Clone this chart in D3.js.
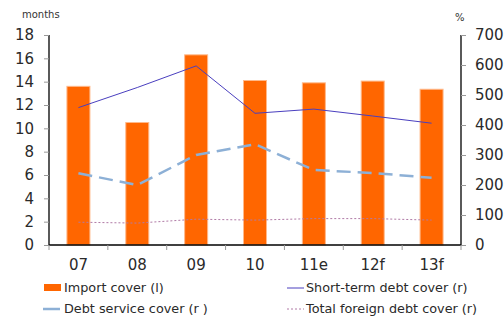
<!DOCTYPE html>
<html>
<head>
<meta charset="utf-8">
<script src="https://cdn.jsdelivr.net/npm/d3@7"></script>
<style>
  body { margin: 0; background: #fff; }
  svg { font-family: "DejaVu Sans", Verdana, sans-serif; }
</style>
</head>
<body>
<svg width="504" height="320"></svg>
<script>
var years = ['07', '08', '09', '10', '11e', '12f', '13f'];
var importCover = [13.6, 10.5, 16.3, 14.1, 13.9, 14.05, 13.35];
var shortTerm = [458, 525, 597, 439, 453, 430, 406];
var debtService = [239, 200, 300, 336, 250, 240, 224];
var totalForeign = [76, 73, 86, 83, 88, 88, 83];
var leftTicks = [0, 2, 4, 6, 8, 10, 12, 14, 16, 18];
var rightTicks = [0, 100, 200, 300, 400, 500, 600, 700];

var svg = d3.select('svg');
var plotLeft = 49, plotRight = 461, plotTop = 35, plotBottom = 245;

var x = d3.scaleBand().domain(years).range([plotLeft, plotRight]);
var yL = d3.scaleLinear().domain([0, 18]).range([plotBottom, plotTop]);
var yR = d3.scaleLinear().domain([0, 700]).range([plotBottom, plotTop]);

// bars
svg.append('g').selectAll('rect')
    .data(importCover)
    .enter().append('rect')
      .attr('x', (d, i) => x(years[i]) + x.bandwidth() / 2 - 11.5)
      .attr('width', 23)
      .attr('y', d => yL(d))
      .attr('height', d => plotBottom - yL(d))
      .attr('fill', '#ff6600')
      .attr('stroke', '#ffb98a')
      .attr('stroke-width', 1);

var line = d3.line()
    .x((d, i) => x(years[i]) + x.bandwidth() / 2)
    .y(d => yR(d));

svg.append('path')
    .datum(debtService)
    .attr('d', line)
    .attr('fill', 'none')
    .attr('stroke', '#8db0d6')
    .attr('stroke-width', 2.5)
    .attr('stroke-dasharray', '14,7');

svg.append('path')
    .datum(totalForeign)
    .attr('d', line)
    .attr('fill', 'none')
    .attr('stroke', '#b07aa6')
    .attr('stroke-width', 1)
    .attr('stroke-dasharray', '2,2');

svg.append('path')
    .datum(shortTerm)
    .attr('d', line)
    .attr('fill', 'none')
    .attr('stroke', '#4a3fbf')
    .attr('stroke-width', 1);

// axes
var gl = svg.append('g')
    .attr('transform', 'translate(' + plotLeft + ',0)')
    .call(d3.axisLeft(yL).tickValues(leftTicks).tickSize(5).tickPadding(10));

var gr = svg.append('g')
    .attr('transform', 'translate(' + plotRight + ',0)')
    .call(d3.axisRight(yR).tickValues(rightTicks).tickSize(5).tickPadding(9));

var gx = svg.append('g')
    .attr('transform', 'translate(0,' + plotBottom + ')')
    .call(d3.axisBottom(x).tickSize(0).tickPadding(14));

// x boundary ticks
svg.append('g').selectAll('line')
    .data(d3.range(years.length + 1))
    .enter().append('line')
      .attr('x1', i => plotLeft + i * x.step())
      .attr('x2', i => plotLeft + i * x.step())
      .attr('y1', plotBottom)
      .attr('y2', plotBottom + 5)
      .attr('stroke', '#999');

[gl, gr, gx].forEach(function(g) {
  g.selectAll('text').attr('font-size', 15).attr('fill', '#2a2a2a')
      .attr('font-family', '"DejaVu Sans", Verdana, sans-serif');
  g.select('.domain').attr('stroke', '#000').attr('stroke-width', 1.3);
  g.selectAll('.tick line').attr('stroke', '#999');
});
gl.select('.domain').attr('d', 'M0,' + plotTop + 'V' + plotBottom);
gr.select('.domain').attr('d', 'M0,' + plotTop + 'V' + plotBottom);
gx.select('.domain').attr('d', 'M' + plotLeft + ',0H' + plotRight);

svg.append('text').text('months')
    .attr('x', 22).attr('y', 18)
    .attr('font-size', 10).attr('fill', '#333');
svg.append('text').text('%')
    .attr('x', 455).attr('y', 21)
    .attr('font-size', 10).attr('fill', '#333');

// legend
var legend = svg.append('g').attr('font-size', 12.8).attr('fill', '#2a2a2a');
legend.append('rect').attr('x', 44).attr('y', 284).attr('width', 17).attr('height', 7).attr('fill', '#ff6600');
legend.append('text').text('Import cover (l)').attr('x', 64).attr('y', 292);
legend.append('line').attr('x1', 287).attr('x2', 304).attr('y1', 288).attr('y2', 288)
    .attr('stroke', '#4a3fbf');
legend.append('text').text('Short-term debt cover (r)').attr('x', 306).attr('y', 292);
legend.append('line').attr('x1', 43).attr('x2', 60).attr('y1', 309).attr('y2', 309)
    .attr('stroke', '#8db0d6').attr('stroke-width', 2.5);
legend.append('text').text('Debt service cover (r )').attr('x', 64).attr('y', 313);
legend.append('line').attr('x1', 287).attr('x2', 304).attr('y1', 309).attr('y2', 309)
    .attr('stroke', '#b07aa6').attr('stroke-dasharray', '2,2');
legend.append('text').text('Total foreign debt cover (r)').attr('x', 306).attr('y', 313);
</script>
</body>
</html>
